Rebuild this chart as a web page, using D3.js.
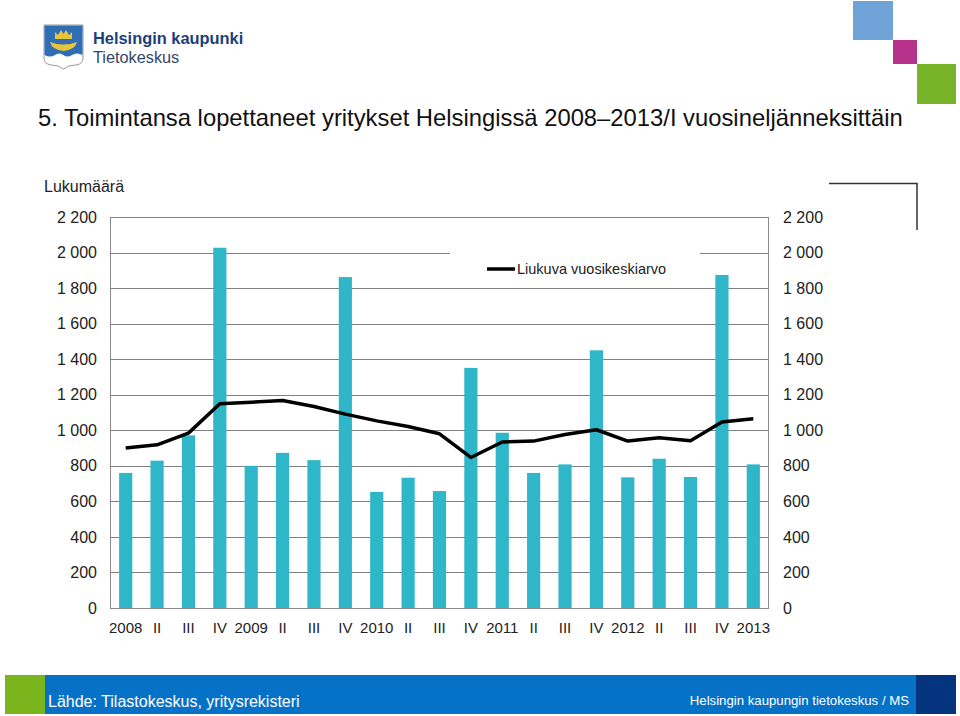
<!DOCTYPE html>
<html>
<head>
<meta charset="utf-8">
<script src="https://cdn.jsdelivr.net/npm/d3@7"></script>
<style>
  html, body { margin: 0; padding: 0; background: #fff; }
  svg { display: block; font-family: "Liberation Sans", Arial, Helvetica, sans-serif; }
</style>
</head>
<body>
<svg id="chart" width="960" height="716"></svg>
<script>
// ---- data ----
const categories = ["2008","II","III","IV","2009","II","III","IV","2010","II","III","IV","2011","II","III","IV","2012","II","III","IV","2013"];
const quarterly = [760, 829, 971, 2027, 800, 873, 832, 1862, 653, 733, 658, 1351, 986, 760, 808, 1450, 735, 840, 737, 1874, 808];
const movingAvg = [900, 918, 984, 1149, 1158, 1167, 1134, 1091, 1053, 1021, 980, 847, 934, 939, 976, 1003, 939, 958, 941, 1046, 1065];
const yTicks = [0, 200, 400, 600, 800, 1000, 1200, 1400, 1600, 1800, 2000, 2200];
const titleText = "5. Toimintansa lopettaneet yritykset Helsingissä 2008–2013/I vuosineljänneksittäin";
const yAxisTitle = "Lukumäärä";
const legendLabel = "Liukuva vuosikeskiarvo";
const sourceText = "Lähde: Tilastokeskus, yritysrekisteri";
const creditText = "Helsingin kaupungin tietokeskus / MS";

const svg = d3.select("#chart");
const idx = categories.map((d, i) => i);

const x = d3.scaleBand().domain(idx).range([110, 769]).paddingInner(0.58).paddingOuter(0.29);
const y = d3.scaleLinear().domain([0, 2200]).range([608, 217]);
const fmt = d3.formatLocale({decimal: ",", thousands: " ", grouping: [3], currency: ["", "€"]}).format(",d");

// ---- decorative header ----
svg.append("rect").attr("x", 853).attr("y", 1).attr("width", 40).attr("height", 39).attr("fill", "#6FA3D8");
svg.append("rect").attr("x", 893).attr("y", 40).attr("width", 24).attr("height", 24).attr("fill", "#B7338B");
svg.append("rect").attr("x", 917).attr("y", 64).attr("width", 39).attr("height", 40).attr("fill", "#78B428");

// logo shield
const logo = svg.append("g");
logo.append("path")
  .attr("d", "M44,25 L83,25 L83,58 Q83,64 76,65 Q68,65 63.5,69 Q59,65 51,65 Q44,64 44,58 Z")
  .attr("fill", "#fff").attr("stroke", "#9a9a9a").attr("stroke-width", 1);
logo.append("path")
  .attr("d", "M44.5,25.5 L82.5,25.5 L82.5,55 Q77,52 72,55 Q67,58 63.5,55 Q59,52 55,55 Q50,58 44.5,55 Z")
  .attr("fill", "#2F6DB5");
logo.append("path")
  .attr("d", "M55,39 L55,32 L58,35 L61,30 L63.5,34 L66,30 L69,35 L72,32 L72,39 Z")
  .attr("fill", "#E8C43A");
logo.append("path")
  .attr("d", "M50,42 Q63.5,47 77,42 Q75,50 63.5,51 Q52,50 50,42 Z")
  .attr("fill", "#E8C43A");

svg.append("text").attr("x", 93).attr("y", 43.5).attr("font-size", 16.4).attr("font-weight", "bold")
  .attr("fill", "#1C3F7C").text("Helsingin kaupunki");
svg.append("text").attr("x", 93).attr("y", 62.5).attr("font-size", 16.3)
  .attr("fill", "#34466A").text("Tietokeskus");

// title
svg.append("text").attr("x", 38).attr("y", 126).attr("font-size", 23.8).attr("fill", "#111").text(titleText);

// y axis title
svg.append("text").attr("x", 44).attr("y", 192).attr("font-size", 16).attr("fill", "#222").text(yAxisTitle);

// bracket line at top right
svg.append("path").attr("d", "M829,183.5 L917,183.5 L917,230").attr("fill", "none")
  .attr("stroke", "#333").attr("stroke-width", 1.5);

// ---- gridlines ----
svg.append("g").selectAll("line").data(yTicks.filter(v => v > 0)).join("line")
  .attr("x1", 110).attr("x2", 769)
  .attr("y1", d => Math.round(y(d)) + 0.5).attr("y2", d => Math.round(y(d)) + 0.5)
  .attr("stroke", "#808080").attr("stroke-width", 1);

// ---- bars ----
svg.append("g").selectAll("rect").data(quarterly).join("rect")
  .attr("x", (d, i) => x(i)).attr("width", x.bandwidth())
  .attr("y", d => y(d)).attr("height", d => y(0) - y(d))
  .attr("fill", "#2FB7C9");

// ---- axes lines ----
const axisColor = "#8a8a8a";
svg.append("line").attr("x1", 110.5).attr("x2", 110.5).attr("y1", 217).attr("y2", 608).attr("stroke", axisColor);
svg.append("line").attr("x1", 768.5).attr("x2", 768.5).attr("y1", 217).attr("y2", 608).attr("stroke", axisColor);
svg.append("line").attr("x1", 110).attr("x2", 769).attr("y1", 608.5).attr("y2", 608.5).attr("stroke", axisColor);

// y axis labels left
const yl = svg.append("g").attr("transform", "translate(97,0)")
  .call(d3.axisLeft(y).tickValues(yTicks).tickSize(0).tickPadding(0).tickFormat(fmt));
yl.select(".domain").remove();
yl.selectAll("text").attr("font-size", 16).attr("fill", "#222").attr("font-family", "Liberation Sans, Arial, sans-serif");

// y axis labels right
const yr = svg.append("g").attr("transform", "translate(783,0)")
  .call(d3.axisRight(y).tickValues(yTicks).tickSize(0).tickPadding(0).tickFormat(fmt));
yr.select(".domain").remove();
yr.selectAll("text").attr("font-size", 16).attr("fill", "#222").attr("font-family", "Liberation Sans, Arial, sans-serif");

// x axis labels
const xa = svg.append("g").attr("transform", "translate(0,608)")
  .call(d3.axisBottom(x).tickSize(0).tickPadding(14).tickFormat(i => categories[i]));
xa.select(".domain").remove();
xa.selectAll("text").attr("font-size", 15).attr("fill", "#222").attr("font-family", "Liberation Sans, Arial, sans-serif");

// ---- moving average line ----
const line = d3.line().x((d, i) => x(i) + x.bandwidth() / 2).y(d => y(d));
svg.append("path").datum(movingAvg).attr("d", line).attr("fill", "none")
  .attr("stroke", "#000").attr("stroke-width", 3.5).attr("stroke-linejoin", "round");

// ---- legend ----
svg.append("rect").attr("x", 450).attr("y", 244).attr("width", 250).attr("height", 40).attr("fill", "#fff");
svg.append("line").attr("x1", 487).attr("x2", 515).attr("y1", 269).attr("y2", 269)
  .attr("stroke", "#000").attr("stroke-width", 3.5);
svg.append("text").attr("x", 517).attr("y", 274).attr("font-size", 14.5).attr("fill", "#222").text(legendLabel);

// ---- footer ----
svg.append("rect").attr("x", 5).attr("y", 675).attr("width", 40).attr("height", 39).attr("fill", "#7AB51D");
svg.append("rect").attr("x", 45).attr("y", 675).attr("width", 871).attr("height", 39).attr("fill", "#0572C7");
svg.append("rect").attr("x", 916).attr("y", 675).attr("width", 40).attr("height", 39).attr("fill", "#05347F");
svg.append("text").attr("x", 48).attr("y", 707).attr("font-size", 16).attr("fill", "#fff").text(sourceText);
svg.append("text").attr("x", 909).attr("y", 705).attr("text-anchor", "end").attr("font-size", 13.2)
  .attr("fill", "#fff").text(creditText);
</script>
</body>
</html>
